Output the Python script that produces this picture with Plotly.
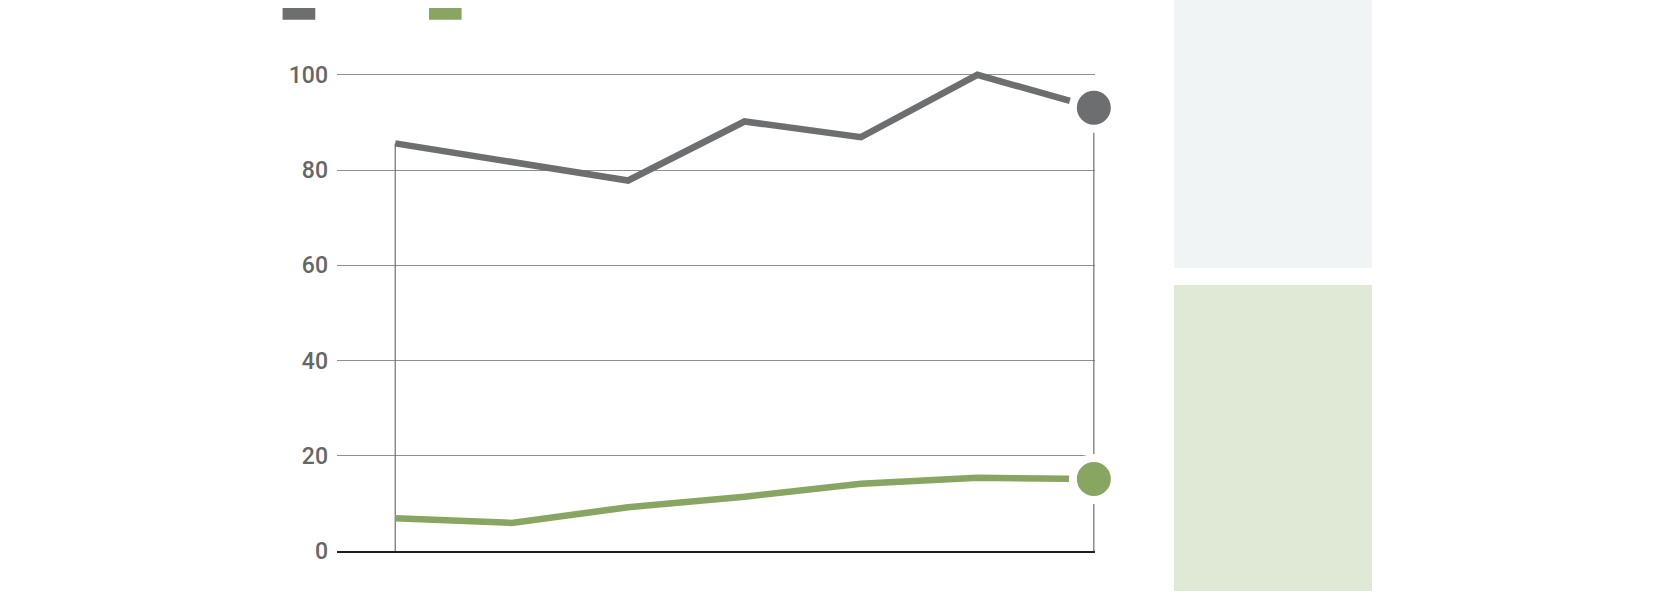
"""Two-series line chart with end dots, drop lines and side panels."""

import plotly.graph_objects as go

# data
periods = [0, 1, 2, 3, 4, 5, 6]
series_gray = [85.6, 81.8, 77.8, 90.2, 86.9, 100.0, 93.1]
series_green = [6.9, 5.9, 9.2, 11.4, 14.1, 15.4, 15.1]
y_ticks = [0, 20, 40, 60, 80, 100]

# theme
GRAY = "#6d6e70"
GREEN = "#88a562"
GRID = "#8f8f8f"
DROP = "#6f6f6f"
AXIS = "#1f1f1f"
TICK = "#666666"
PANEL_TOP = "#f0f4f5"
PANEL_BOTTOM = "#e0e9d5"
FONT = "Roboto"

W, H = 1660, 600
ML, MR, MT, MB = 337, 565, 51, 49
PLOT_W = W - ML - MR
PLOT_H = H - MT - MB


def px_x(p):
    return (p - ML) / PLOT_W


def px_y(p):
    return (H - MB - p) / PLOT_H


def paper_rect(x0, y0, x1, y1, color):
    return dict(
        type="rect",
        xref="paper",
        yref="paper",
        x0=px_x(x0),
        x1=px_x(x1),
        y0=px_y(y1),
        y1=px_y(y0),
        fillcolor=color,
        line_width=0,
        layer="below",
    )


fig = go.Figure()

# drop lines at the first and last period, from 0 up to the top series
for i in (0, len(periods) - 1):
    top = max(series_gray[i], series_green[i])
    fig.add_trace(
        go.Scatter(
            x=[periods[i], periods[i]],
            y=[0, top],
            mode="lines",
            line=dict(color=DROP, width=1.2),
            hoverinfo="skip",
        )
    )

for values, color in ((series_gray, GRAY), (series_green, GREEN)):
    fig.add_trace(
        go.Scatter(
            x=periods,
            y=values,
            mode="lines",
            line=dict(color=color, width=6.5),
        )
    )
    fig.add_trace(
        go.Scatter(
            x=[periods[-1]],
            y=[values[-1]],
            mode="markers",
            marker=dict(color=color, size=42, line=dict(color="white", width=8)),
            cliponaxis=False,
        )
    )

shapes = [
    paper_rect(282.6, 7.9, 315.3, 19.7, GRAY),
    paper_rect(429.0, 7.9, 461.6, 19.7, GREEN),
    paper_rect(1174, 0, 1372, 268, PANEL_TOP),
    paper_rect(1174, 285, 1372, 591, PANEL_BOTTOM),
]

fig.update_layout(
    width=W,
    height=H,
    margin=dict(l=ML, r=MR, t=MT, b=MB),
    paper_bgcolor="white",
    plot_bgcolor="white",
    showlegend=False,
    shapes=shapes,
    xaxis=dict(
        range=[-0.5, 6.01],
        showgrid=False,
        zeroline=False,
        showticklabels=False,
        showline=True,
        linecolor=AXIS,
        linewidth=2,
        ticks="",
    ),
    yaxis=dict(
        range=[0, 105],
        tickvals=y_ticks,
        showgrid=True,
        gridcolor=GRID,
        gridwidth=1,
        zeroline=False,
        ticks="",
        ticklabelstandoff=8,
        tickfont=dict(family=FONT, size=23, color=TICK, weight=500),
    ),
)

# the page's default body margin would push the figure 8px down and right
fig.write_html(
    "out.html",
    config={"displayModeBar": False},
    post_script="document.body.style.margin = '0';",
)
